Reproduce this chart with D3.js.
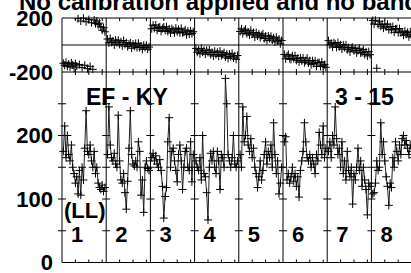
<!DOCTYPE html>
<html>
<head>
<meta charset="utf-8">
<script src="https://cdn.jsdelivr.net/npm/d3@7"></script>
<style>
  body { margin: 0; background: #fff; }
  svg { display: block; font-family: 'Liberation Sans', Arial, sans-serif; font-weight: bold; }
</style>
</head>
<body>
<svg width="411" height="273"></svg>
<script>
// segment numbers along the bottom panel
let segLabels = ['1', '2', '3', '4', '5', '6', '7', '8'];
let segLength = 33; // samples per segment
let minorTicks = [10, 20, 30];

let phaseTicks = [-200, 200];
let ampTicks = [0, 100, 200];
let dividerTicks = [50, 100, 150, 200, 250];

// top panel: phase (deg)
let phaseSeg1 = [-135, -150, -128, -158, -140, -162, -132, -148, -170, -138, -155, 195, -145, 178, -168, 198, -150, 172, -175, 188, -158, 165, -180, 185, 158, 178, 150, 162, 135, 110, 128, 98];
let phaseSeg2 = [44, 15, 49, 19, 30, 1, 37, 17, 36, 4, 23, -7, 33, 4, 18, -12, 7, 16, -24, 8, -9, 12, -19, 13, -19, -7, -32, -3, -19, -2, -31, -15];
let phaseSeg3 = [120, 147, 123, 148, 109, 129, 134, 101, 122, 133, 108, 135, 100, 119, 89, 121, 110, 90, 125, 98, 116, 90, 124, 91, 95, 112, 76, 103, 81, 105, 85, 98];
let phaseSeg4 = [-25, -54, -37, -65, -25, -53, -40, -68, -39, -56, -36, -71, -55, -81, -46, -71, -54, -84, -45, -79, -70, -56, -89, -68, -99, -67, -86, -62, -96, -80, -106, -78];
let phaseSeg5 = [100, 119, 84, 106, 117, 84, 95, 74, 109, 80, 92, 58, 93, 67, 83, 54, 71, 82, 48, 66, 32, 67, 48, 65, 36, 53, 22, 58, 29, 44, 9, 33];
let phaseSeg6 = [-70, -102, -82, -69, -100, -107, -80, -101, -79, -114, -98, -127, -95, -117, -96, -131, -116, -97, -134, -116, -146, -116, -136, -117, -158, -130, -130, -159, -125, -155, -146, -165];
let phaseSeg7 = [32, 1, 13, -15, 17, 8, -18, 18, -12, 2, -31, 1, -19, 1, -35, -19, -51, -21, -17, -43, -26, -58, -40, -24, -59, -55, -34, -70, -50, -81, -49, -72];
let phaseSeg8 = [182, 155, 183, -172, 151, 176, 139, 153, 125, 155, 134, 154, 114, 135, 113, 137, 94, 119, 121, 91, 121, 91, 97, 72, 103, 80, 93, 60, 97, 62, 72, 51];

// bottom panel: amplitude
let ampSeg1 = [175, 215, 165, 200, 170, 160, 185, 150, 140, 125, 135, 108, 145, 106, 150, 130, 180, 239, 175, 170, 185, 160, 150, 175, 140, 150, 125, 118, 115, 122, 112, 118];
let ampSeg2 = [170, 245, 185, 165, 160, 172, 155, 150, 232, 160, 130, 125, 140, 110, 84, 128, 180, 239, 170, 155, 152, 160, 150, 190, 175, 106, 130, 79, 150, 160, 148, 145];
let ampSeg3 = [165, 172, 160, 168, 155, 150, 162, 145, 120, 70, 104, 118, 190, 228, 150, 175, 180, 160, 145, 127, 170, 185, 160, 115, 150, 175, 180, 150, 145, 190, 127, 170];
let ampSeg4 = [160, 150, 145, 165, 130, 200, 140, 135, 110, 67, 150, 172, 160, 175, 150, 140, 175, 160, 115, 170, 165, 150, 290, 250, 170, 160, 150, 165, 200, 155, 150, 160];
let ampSeg5 = [170, 150, 245, 190, 200, 230, 185, 175, 195, 165, 180, 150, 140, 118, 135, 160, 130, 145, 170, 190, 155, 175, 165, 185, 150, 220, 170, 140, 160, 108, 125, 150];
let ampSeg6 = [190, 198, 130, 140, 125, 135, 150, 128, 140, 120, 135, 103, 145, 160, 175, 220, 190, 165, 160, 170, 150, 165, 155, 140, 170, 160, 205, 185, 170, 215, 165, 180];
let ampSeg7 = [175, 190, 165, 200, 185, 245, 195, 170, 180, 150, 190, 140, 160, 130, 175, 145, 135, 150, 92, 140, 130, 150, 180, 145, 160, 120, 150, 130, 115, 75, 125, 120];
let ampSeg8 = [108, 110, 125, 160, 145, 150, 220, 170, 190, 160, 135, 120, 90, 125, 118, 165, 150, 190, 175, 160, 185, 170, 195, 200, 185, 192, 180, 170, 185, 175, 165, 170];

let phaseSegs = [phaseSeg1, phaseSeg2, phaseSeg3, phaseSeg4, phaseSeg5, phaseSeg6, phaseSeg7, phaseSeg8];
let ampSegs = [ampSeg1, ampSeg2, ampSeg3, ampSeg4, ampSeg5, ampSeg6, ampSeg7, ampSeg8];

let svg = d3.select('svg');

let xScale = d3.scaleLinear().domain([0, segLabels.length * segLength]).range([62, 415.6]);
let yPhase = d3.scaleLinear().domain([-200, 200]).range([72, 18]);
let yAmp = d3.scaleLinear().domain([0, 300]).range([262.5, 72]);

let toPoints = (segs) =>
  segs.flatMap((vals, s) => vals.map((v, i) => ({ s: s, x: s * segLength + i + 1, v: v })));

let phasePts = toPoints(phaseSegs);
let ampPts = toPoints(ampSegs);

let cross = (x, y) => `M${x - 4},${y}h8M${x},${y - 4}v8`;

// frame
let frame = svg.append('g').attr('stroke', '#000').attr('stroke-width', 1);
[yPhase(200), yPhase(0), yPhase(-200), yAmp(0)].forEach((y) => {
  frame.append('line').attr('x1', xScale(0)).attr('x2', xScale.range()[1]).attr('y1', y).attr('y2', y);
});

let dividers = d3.range(segLabels.length + 1).map((k) => k * segLength);
frame
  .selectAll('line.div')
  .data(dividers)
  .enter()
  .append('line')
  .attr('class', 'div')
  .attr('x1', (d) => xScale(d))
  .attr('x2', (d) => xScale(d))
  .attr('y1', yPhase(200))
  .attr('y2', yAmp(0));

// small crossing ticks on every divider
let divTicks = dividers.flatMap((d) => dividerTicks.map((v) => ({ d: d, v: v })));
frame
  .selectAll('line.dtick')
  .data(divTicks)
  .enter()
  .append('line')
  .attr('class', 'dtick')
  .attr('x1', (d) => xScale(d.d) - 4)
  .attr('x2', (d) => xScale(d.d) + 4)
  .attr('y1', (d) => yAmp(d.v))
  .attr('y2', (d) => yAmp(d.v));

// minor ticks inside each segment
let xTickVals = d3.range(segLabels.length).flatMap((s) => minorTicks.map((t) => s * segLength + t));
let tickRows = [
  { y: yPhase(200), len: 3 },
  { y: yPhase(-200), len: -3 },
  { y: yPhase(-200), len: 3 },
  { y: yAmp(0), len: -3 },
];
tickRows.forEach((row) => {
  frame
    .append('g')
    .selectAll('line')
    .data(xTickVals)
    .enter()
    .append('line')
    .attr('x1', (d) => xScale(d))
    .attr('x2', (d) => xScale(d))
    .attr('y1', row.y)
    .attr('y2', row.y + row.len);
});

// y axis labels (plain hyphen for negatives)
let yAxisPhase = d3.axisLeft(yPhase).tickValues(phaseTicks).tickSize(0).tickPadding(9).tickFormat((d) => String(d));
let yAxisAmp = d3.axisLeft(yAmp).tickValues(ampTicks).tickSize(0).tickPadding(9).tickFormat((d) => String(d));

[yAxisPhase, yAxisAmp].forEach((ax) => {
  let g = svg.append('g').attr('transform', `translate(${xScale(0)},0)`).call(ax);
  g.select('.domain').remove();
  g.selectAll('text')
    .attr('font-size', 22)
    .attr('font-family', "'Liberation Sans', Arial, sans-serif")
    .attr('font-weight', 'bold')
    .attr('fill', '#000');
});

// top panel: crosses only
svg
  .append('path')
  .attr('fill', 'none')
  .attr('stroke', '#000')
  .attr('stroke-width', 1)
  .attr('d', phasePts.map((p) => cross(xScale(p.x), yPhase(p.v))).join(''));

// bottom panel: connected crosses
let line = d3
  .line()
  .x((d) => xScale(d.x))
  .y((d) => yAmp(d.v));

svg
  .append('g')
  .selectAll('path')
  .data(d3.range(segLabels.length))
  .enter()
  .append('path')
  .attr('fill', 'none')
  .attr('stroke', '#222')
  .attr('stroke-width', 1)
  .attr('d', (s) => line(ampPts.filter((p) => p.s === s)));

svg
  .append('path')
  .attr('fill', 'none')
  .attr('stroke', '#000')
  .attr('stroke-width', 1)
  .attr('d', ampPts.map((p) => cross(xScale(p.x), yAmp(p.v))).join(''));

// labels
svg
  .selectAll('text.seg')
  .data(segLabels)
  .enter()
  .append('text')
  .attr('class', 'seg')
  .attr('x', (d, i) => xScale(i * segLength) + 9)
  .attr('y', 242)
  .attr('font-size', 22)
  .text((d) => d);

svg.append('text').attr('x', 86).attr('y', 105).attr('font-size', 23).text('EF - KY');
svg.append('text').attr('x', 335).attr('y', 105).attr('font-size', 23).text('3 - 15');
svg.append('text').attr('x', 64).attr('y', 218).attr('font-size', 22).text('(LL)');

svg
  .append('text')
  .attr('x', 19)
  .attr('y', 9.5)
  .attr('font-size', 24)
  .text('No calibration applied and no bandpass');
</script>
</body>
</html>
